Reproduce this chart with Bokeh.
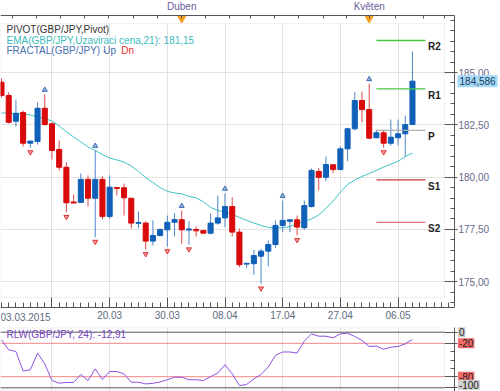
from bokeh.plotting import figure
from bokeh.models import (Range1d, LinearAxis, FixedTicker, Label, ColumnDataSource,
                          Grid, BoxAnnotation)
from bokeh.layouts import column
from bokeh.embed import file_html
from bokeh.resources import INLINE

# ---------------- data (GBP/JPY daily, 03.03.2015 - 06.05.2015) ----------------
opens = [184.54, 183.90, 182.67, 183.09, 181.62, 181.70, 183.29, 182.55, 181.32, 180.47,
         178.81, 178.79, 179.89, 178.99, 179.89, 178.12, 179.50, 179.49, 178.99, 177.79,
         177.80, 176.94, 177.21, 177.48, 177.84, 177.96, 177.47, 177.50, 177.45, 177.32,
         177.80, 178.05, 178.59, 177.37, 175.84, 175.86, 176.22, 176.46, 176.78, 177.69,
         177.89, 177.96, 177.58, 178.59, 180.27, 179.99, 180.59, 180.36, 181.35, 182.31,
         183.66, 183.23, 181.88, 182.12, 181.62, 181.88, 182.07, 182.51]
highs = [184.71, 184.06, 183.71, 183.18, 181.73, 183.58, 183.95, 182.61, 181.75, 180.71,
         179.17, 180.17, 180.08, 181.27, 180.03, 180.08, 179.50, 179.69, 178.99, 178.36,
         177.89, 177.93, 177.54, 178.16, 178.27, 178.40, 177.89, 177.65, 177.45, 178.26,
         179.12, 179.22, 179.04, 177.54, 175.88, 176.52, 176.57, 176.97, 177.93, 178.88,
         177.96, 178.16, 178.88, 180.41, 180.43, 180.98, 180.59, 181.46, 182.36, 184.06,
         184.09, 184.46, 182.26, 182.26, 182.75, 182.75, 182.94, 186.00]
lows = [183.80, 182.56, 182.42, 181.46, 181.41, 181.56, 182.47, 180.84, 180.32, 178.32,
        178.76, 178.79, 178.59, 177.13, 177.97, 178.01, 179.12, 178.16, 177.54, 177.56,
        176.54, 176.73, 177.16, 176.68, 177.16, 176.81, 176.77, 177.16, 177.32, 177.26,
        177.72, 177.61, 177.16, 175.69, 175.66, 175.33, 174.90, 175.73, 176.62, 177.37,
        177.37, 177.21, 177.48, 178.55, 179.36, 179.80, 180.19, 180.32, 180.76, 182.23,
        182.62, 181.83, 181.86, 181.41, 181.51, 181.51, 180.98, 182.51]
closes = [183.90, 182.62, 183.05, 181.62, 181.72, 183.29, 182.51, 181.27, 180.47, 178.77,
          178.76, 179.89, 178.99, 179.89, 178.12, 179.52, 179.46, 179.01, 177.80, 177.83,
          176.94, 177.21, 177.50, 177.84, 177.97, 177.48, 177.52, 177.43, 177.32, 177.80,
          178.05, 178.59, 177.37, 175.81, 175.88, 176.25, 176.46, 176.78, 177.69, 177.93,
          177.96, 177.61, 178.64, 180.32, 179.99, 180.60, 180.36, 181.35, 182.31, 183.66,
          183.23, 181.86, 182.12, 181.62, 181.91, 182.07, 182.51, 184.586]
ema21 = [183.07, 183.05, 183.04, 183.02, 182.97, 182.87, 182.80, 182.68, 182.44, 182.16,
         181.92, 181.68, 181.44, 181.27, 181.08, 180.91, 180.82, 180.72, 180.53, 180.27,
         179.98, 179.74, 179.50, 179.32, 179.24, 179.20, 179.08, 179.01, 178.82, 178.55,
         178.41, 178.31, 178.22, 178.07, 177.93, 177.81, 177.69, 177.59, 177.57, 177.58,
         177.64, 177.76, 177.88, 178.00, 178.19, 178.50, 178.86, 179.28, 179.65, 179.86,
         180.03, 180.17, 180.32, 180.48, 180.62, 180.75, 180.98, 181.15]
rlw24 = [-13.7, -31.7, -34.7, -70.0, -67.6, -37.6, -56.8, -86.9, -91.7, -90.5,
         -90.5, -76.0, -87.0, -66.0, -85.0, -70.7, -70.7, -75.0, -90.0, -90.0,
         -93.0, -92.0, -89.5, -85.5, -81.0, -81.0, -85.5, -85.5, -87.0, -80.0,
         -73.4, -58.4, -75.0, -96.0, -94.0, -84.0, -76.0, -62.6, -41.6, -35.6,
         -35.6, -37.6, -16.0, -3.0, -7.2, -7.2, -10.0, -3.0, -1.8, -7.7,
         -15.0, -25.7, -25.0, -30.5, -27.0, -25.7, -21.0, -12.91]
fractal_up_idx = [6, 13, 25, 31, 39, 51]
fractal_dn_idx = [4, 9, 13, 20, 23, 26, 36, 41, 53]
pivot_names = ["R2", "R1", "P", "S1", "S2"]
pivot_vals = [186.53, 184.22, 182.23, 179.87, 177.84]
pivot_start, pivot_end = 52, 58.8
date_ticks = [7, 15, 23, 31, 39, 47, 55]
date_labels = ["", "20.03", "30.03", "08.04", "17.04", "27.04", "06.05"]
first_date_label = "03.03.2015"
month_ticks = [25, 51]
month_labels = ["Duben", "Květen"]
price_ticks = [175, 177.5, 180, 182.5, 185]
price_labels = ["175,00", "177,50", "180,00", "182,50", "185,00"]
rlw_levels = [0, -20, -80, -100]
rlw_level_labels = ["0", "-20", "-80", "-100"]

# ---------------- geometry / styles ----------------
FONT = "Liberation Sans"
FS = "10px"
UP_BODY, DN_BODY = "#1060b8", "#d80a0a"
UP_WICK, DN_WICK = "#4f86c8", "#e04848"
pivot_colors = ["#44c844", "#44c844", "#b0b0b0", "#cc3838", "#e87878"]
AXIS_C = "#555555"
GRID_C = "#e2e2e2"
FRAME_C = "#cfcfcf"

X0, X_DATA_END, X_AXIS, X_END = -0.139, 61.44, 62.83, 69.21   # index units
P_TOP_AXIS, P_FRAME_TOP, P_FRAME_BOT, P_BOT_AXIS = 187.725, 187.342, 174.245, 173.767
W_FRAME_TOP, W_FRAME_BOT = 7.6, -104.0

n = len(opens)
idx = list(range(n))
is_up = [c >= o for o, c in zip(opens, closes)]
src = ColumnDataSource(dict(
    x=idx, high=highs, low=lows,
    top=[max(o, c) for o, c in zip(opens, closes)],
    bottom=[min(o, c) for o, c in zip(opens, closes)],
    body=[UP_BODY if u else DN_BODY for u in is_up],
    wick=[UP_WICK if u else DN_WICK for u in is_up],
))

xr = Range1d(X0, X_END)
HAS_CB = "cross_bounds" in Grid.properties()


def add_grid(fig, dim, ticks, cross):
    if HAS_CB:
        fig.add_layout(Grid(dimension=dim, ticker=FixedTicker(ticks=ticks),
                            grid_line_color=GRID_C, cross_bounds=cross))
    elif dim == 0:
        fig.segment(x0=ticks, y0=[cross[0]] * len(ticks), x1=ticks, y1=[cross[1]] * len(ticks),
                    line_color=GRID_C, line_width=1)
    else:
        fig.segment(x0=[cross[0]] * len(ticks), y0=ticks, x1=[cross[1]] * len(ticks), y1=ticks,
                    line_color=GRID_C, line_width=1)


def base_fig(h, yrange):
    return figure(frame_width=500, frame_height=h, x_range=xr, y_range=yrange,
                  x_axis_type=None, y_axis_type=None,
                  toolbar_location=None, output_backend="svg", min_border=0,
                  outline_line_color=None, background_fill_color="white")


# ---------------- main price panel ----------------
p = base_fig(326, Range1d(172.858, 188.442))
add_grid(p, 0, date_ticks, (P_FRAME_BOT, P_FRAME_TOP))
add_grid(p, 1, price_ticks, (X0, X_DATA_END))
p.add_layout(BoxAnnotation(left=X0, right=X_DATA_END, bottom=P_FRAME_BOT, top=P_FRAME_TOP,
                           fill_color=None, line_color=FRAME_C, line_width=1))

minor_p = [174.0 + 0.5 * k for k in range(28)]
ax_r = LinearAxis(fixed_location=X_AXIS, bounds=(P_BOT_AXIS, P_TOP_AXIS),
                  ticker=FixedTicker(ticks=price_ticks, minor_ticks=minor_p),
                  major_label_overrides=dict(zip(price_ticks, price_labels)),
                  major_tick_in=10, major_tick_out=3, minor_tick_in=4, minor_tick_out=0,
                  axis_line_color=AXIS_C, major_tick_line_color=AXIS_C, minor_tick_line_color=AXIS_C,
                  major_label_text_font=FONT, major_label_text_font_size=FS,
                  major_label_text_color="#6a6a8a", major_label_standoff=1)
p.add_layout(ax_r, "right")

top_ticks = [1.5, 4.85, 8.2, 11.55, 14.9, 18.25, 21.6, 25, 28.3, 31.65, 34.5, 37.9,
             41.2, 44.6, 47.9, 51, 54.6, 58.5, 61.4]
top_over = {t: "" for t in top_ticks}
top_over.update(dict(zip(month_ticks, month_labels)))
ax_t = LinearAxis(fixed_location=P_TOP_AXIS, bounds=(X0, X_AXIS),
                  ticker=FixedTicker(ticks=top_ticks, minor_ticks=[]),
                  major_label_overrides=top_over,
                  major_tick_in=3, major_tick_out=0, minor_tick_in=0, minor_tick_out=0,
                  axis_line_color=AXIS_C, major_tick_line_color=AXIS_C,
                  major_label_text_font=FONT, major_label_text_font_size=FS,
                  major_label_text_color="#6a5a98", major_label_standoff=4)
p.add_layout(ax_t, "above")

ax_b = LinearAxis(fixed_location=P_BOT_AXIS, bounds=(X0, X_AXIS),
                  ticker=FixedTicker(ticks=date_ticks, minor_ticks=list(range(0, 63))),
                  major_label_overrides=dict(zip(date_ticks, date_labels)),
                  major_tick_in=10, major_tick_out=0, minor_tick_in=5, minor_tick_out=0,
                  axis_line_color=AXIS_C, major_tick_line_color=AXIS_C, minor_tick_line_color=AXIS_C,
                  major_label_text_font=FONT, major_label_text_font_size=FS,
                  major_label_text_color="#5d6a80", major_label_standoff=4)
p.add_layout(ax_b, "below")
p.add_layout(Label(x=X0, y=173.303, text=first_date_label, text_align="left",
                   text_baseline="middle", text_font=FONT, text_font_size=FS,
                   text_color="#5d6a80"))

# month markers on the top axis
p.scatter(month_ticks, [187.58] * len(month_ticks), marker="inverted_triangle", size=8,
          fill_color="#f5a020", line_color="#f5a020")

# EMA
p.line(idx, ema21, line_color="#3cc4c4", line_width=1)

# candles
p.segment(x0="x", y0="low", x1="x", y1="high", source=src, line_color="wick", line_width=1)
p.vbar(x="x", width=0.7, top="top", bottom="bottom", source=src,
       fill_color="body", line_color="body", line_width=1)

# fractals
p.scatter(fractal_up_idx, [highs[i] + 0.22 for i in fractal_up_idx],
          marker="triangle", size=5, fill_color="#9ab6e0", line_color="#3a6ab4")
p.scatter(fractal_dn_idx, [lows[i] - 0.22 for i in fractal_dn_idx],
          marker="inverted_triangle", size=5, fill_color="#f4a0a0", line_color="#e03030")

# pivots
p.segment(x0=[pivot_start] * 5, y0=pivot_vals, x1=[pivot_end] * 5, y1=pivot_vals,
          line_color=pivot_colors, line_width=1.3)
for nm, v in zip(pivot_names, pivot_vals):
    p.add_layout(Label(x=59.15, y=v, text=nm, text_align="left", text_baseline="top",
                       text_font=FONT, text_font_size=FS, text_font_style="bold",
                       text_color="#222222", y_offset=-1))

# last price tag
p.add_layout(Label(x=63.25, y=closes[-1], text=f"{closes[-1]:.3f}".replace(".", ","),
                   text_align="left", text_baseline="middle", text_font=FONT, text_font_size=FS,
                   text_color="#203a60", background_fill_color="#a6dbf7", padding=2))

# legend texts
p.add_layout(Label(x=0.69, y=187.04, text="PIVOT(GBP/JPY,Pivot)", text_baseline="middle",
                   text_font=FONT, text_font_size=FS, text_color="#333333"))
p.add_layout(Label(x=0.69, y=186.53,
                   text=f"EMA(GBP/JPY,Uzaviraci cena,21): {ema21[-1]:.2f}".replace(".", ","),
                   text_baseline="middle", text_font=FONT, text_font_size=FS, text_color="#3cbcbc"))
p.add_layout(Label(x=0.69, y=186.05, text="FRACTAL(GBP/JPY) -", text_baseline="middle",
                   text_font=FONT, text_font_size=FS, text_color="#4a70b0"))
p.add_layout(Label(x=14.1, y=186.05, text="Up", text_baseline="middle",
                   text_font=FONT, text_font_size=FS, text_color="#4a70b0"))
p.add_layout(Label(x=16.6, y=186.05, text="Dn", text_baseline="middle",
                   text_font=FONT, text_font_size=FS, text_color="#e03030"))

# ---------------- Williams %R panel ----------------
p2 = base_fig(65, Range1d(-106.65, 10.25))
add_grid(p2, 0, date_ticks, (W_FRAME_BOT, W_FRAME_TOP))
p2.add_layout(BoxAnnotation(left=X0, right=X_DATA_END, bottom=W_FRAME_BOT, top=W_FRAME_TOP,
                            fill_color=None, line_color=FRAME_C, line_width=1))
ax_r2 = LinearAxis(fixed_location=X_AXIS, bounds=(-106.65, W_FRAME_TOP),
                   ticker=FixedTicker(ticks=rlw_levels, minor_ticks=[-35, -50, -65]),
                   major_label_overrides={lv: "" for lv in rlw_levels},
                   major_tick_in=10, major_tick_out=3, minor_tick_in=4, minor_tick_out=0,
                   axis_line_color=AXIS_C, major_tick_line_color=AXIS_C, minor_tick_line_color=AXIS_C)
p2.add_layout(ax_r2, "right")
lvl_colors = ["#555555" if lv in (0, -100) else "#f08888" for lv in rlw_levels]
p2.segment(x0=[X0] * 4, y0=rlw_levels, x1=[X_DATA_END] * 4, y1=rlw_levels,
           line_color=lvl_colors, line_width=1)
for lv, txt in zip(rlw_levels, rlw_level_labels):
    edge = lv in (0, -100)
    p2.add_layout(Label(x=63.3, y=lv, text=txt, y_offset=3 if lv == -100 else 0,
                        text_align="left", text_baseline="middle", text_font=FONT,
                        text_font_size=FS, text_color="#222222",
                        background_fill_color="#cfcfcf" if edge else "#f26a6a", padding=1))
p2.line(idx, rlw24, line_color="#9050e0", line_width=1)
p2.add_layout(Label(x=0.69, y=-4.3, text=f"RLW(GBP/JPY, 24): {rlw24[-1]:.2f}".replace(".", ","),
                    text_baseline="middle", text_font=FONT, text_font_size=FS, text_color="#7a44c4"))

layout = column(p, p2, spacing=0)
open("out.html", "w").write(file_html(layout, INLINE))
